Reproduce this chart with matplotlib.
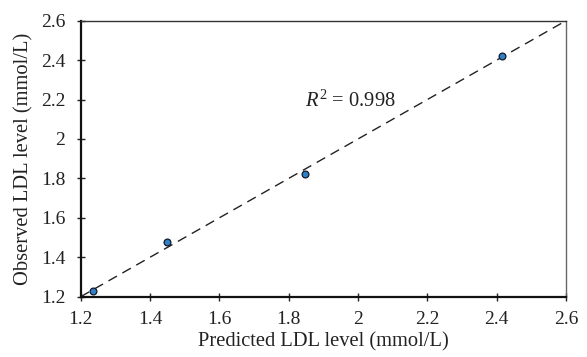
import matplotlib
matplotlib.use("Agg")
import matplotlib.pyplot as plt

# Predicted vs observed LDL level (mmol/L)
predicted = [1.235, 1.45, 1.848, 2.415]
observed = [1.23, 1.478, 1.82, 2.42]
r2_label = "0.998"
ticks = [1.2, 1.4, 1.6, 1.8, 2, 2.2, 2.4, 2.6]
tick_labels = ["1.2", "1.4", "1.6", "1.8", "2", "2.2", "2.4", "2.6"]

plt.rcParams["font.family"] = ["Liberation Serif", "DejaVu Serif"]
plt.rcParams["mathtext.fontset"] = "custom"
plt.rcParams["mathtext.it"] = "Liberation Serif:italic"
plt.rcParams["mathtext.rm"] = "Liberation Serif"

fig = plt.figure(figsize=(5.87, 3.57), dpi=100)
ax = fig.add_axes([80.7 / 587, 1 - 296.7 / 357, (566 - 80.7) / 587, (296.7 - 20.7) / 357])

lo, hi = ticks[0], ticks[-1]
ax.plot([lo, hi], [lo, hi], ls=(0, (7, 4.5)), color="#222222", lw=1.0, zorder=1)
ax.scatter(predicted, observed, s=24, color="#2f80c4", edgecolor="#111a2a",
           linewidth=0.9, zorder=3)

ax.text(1.847, 2.19, r"$R^2$ = " + r2_label, fontsize=14.8, va="center", ha="left",
        color="#222222")

ax.set_xlim(lo, hi)
ax.set_ylim(lo, hi)
ax.set_xticks(ticks)
ax.set_xticklabels(tick_labels)
ax.set_yticks(ticks)
ax.set_yticklabels(tick_labels)
ax.tick_params(direction="inout", length=6, width=1.0, labelsize=14, colors="#222222")
ax.tick_params(axis="x", pad=7)
ax.tick_params(axis="y", pad=8)
ax.set_xlabel("Predicted LDL level (mmol/L)", fontsize=14.8, color="#222222", labelpad=3)
ax.set_ylabel("Observed LDL level (mmol/L)", fontsize=14.8, color="#222222", labelpad=5)

for side in ("left", "bottom"):
    ax.spines[side].set_linewidth(1.6)
    ax.spines[side].set_color("#111111")
ax.spines["top"].set_linewidth(1.0)
ax.spines["top"].set_color("#333333")
ax.spines["right"].set_linewidth(1.0)
ax.spines["right"].set_color("#666666")

fig.savefig("out.png", dpi=100)
